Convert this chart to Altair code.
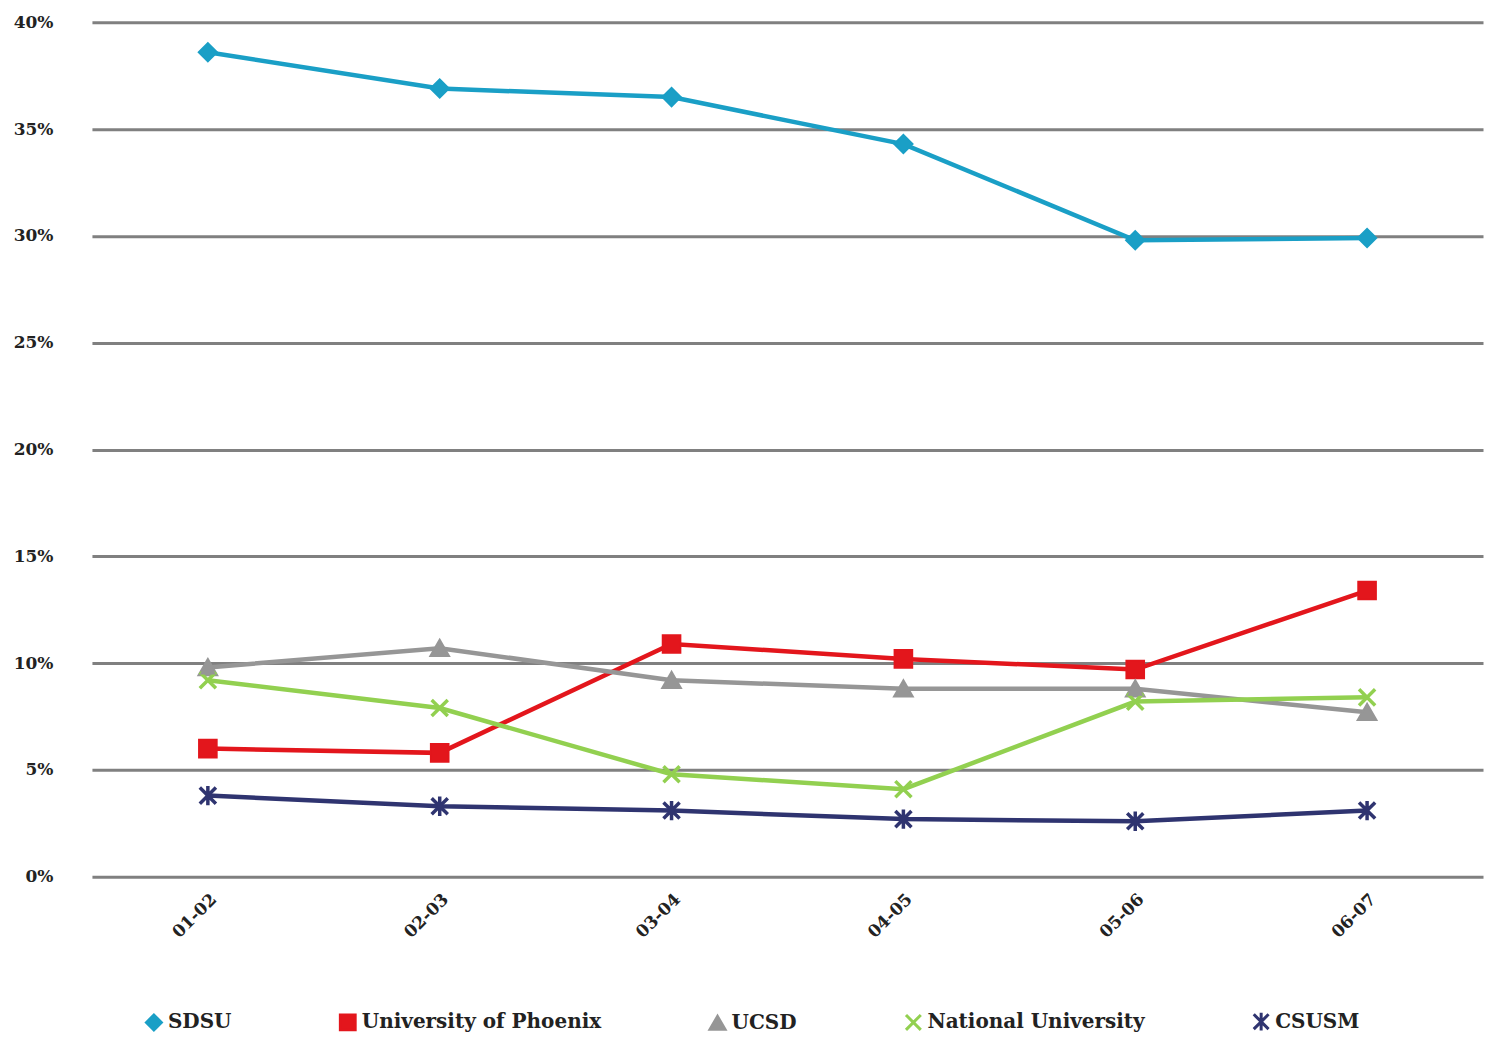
import altair as alt
import pandas as pd

years = ["01-02", "02-03", "03-04", "04-05", "05-06", "06-07"]
schools = ["SDSU", "University of Phoenix", "UCSD", "National University", "CSUSM"]
sdsu = [38.6, 36.9, 36.5, 34.3, 29.8, 29.9]
phoenix = [6.0, 5.8, 10.9, 10.2, 9.7, 13.4]
ucsd = [9.8, 10.7, 9.2, 8.8, 8.8, 7.7]
national = [9.2, 7.9, 4.8, 4.1, 8.2, 8.4]
csusm = [3.8, 3.3, 3.1, 2.7, 2.6, 3.1]

colors = ["#1a9fc6", "#e3161c", "#969696", "#92d050", "#2f3470"]
xpath = "M-1,-1L1,1M-1,1L1,-1"
astpath = "M-1,-1L1,1M-1,1L1,-1M0,-1.2L0,1.2"
shapes = ["diamond", "square", "triangle-up", xpath, astpath]

rows = []
for name, vals in zip(schools, [sdsu, phoenix, ucsd, national, csusm]):
    for y, v in zip(years, vals):
        rows.append({"year": y, "school": name, "pct": v / 100})
df = pd.DataFrame(rows)

font = "DejaVu Serif"
x = alt.X("year:N", title=None, sort=years,
          scale=alt.Scale(paddingOuter=0.5),
          axis=alt.Axis(labelAngle=-45, labelFontSize=17, labelFontWeight="bold",
                        labelFont=font, labelColor="#222", domain=False, ticks=False,
                        labelPadding=14))
y = alt.Y("pct:Q", title=None, scale=alt.Scale(domain=[0, 0.4]),
          axis=alt.Axis(format=".0%", values=[i / 100 for i in range(0, 41, 5)],
                        labelFontSize=17, labelFontWeight="bold", labelFont=font,
                        labelColor="#222", domain=False, ticks=False, labelPadding=39,
                        gridColor="#808080", gridWidth=3, gridOpacity=1))
color = alt.Color("school:N", sort=schools,
                  scale=alt.Scale(domain=schools, range=colors),
                  legend=alt.Legend(title=None, orient="none", direction="horizontal",
                                    legendX=52, legendY=990,
                                    labelFontSize=20, labelFont=font, labelFontWeight="bold",
                                    labelColor="#222", symbolSize=220, symbolStrokeWidth=3,
                                    labelLimit=0, columnPadding=102))
shape = alt.Shape("school:N", sort=schools,
                  scale=alt.Scale(domain=schools, range=shapes))

base = alt.Chart(df).encode(x=x, y=y, color=color)
lines = base.mark_line(strokeWidth=4.5)
outline = base.mark_point(size=260, filled=False, strokeWidth=3.5, opacity=1).encode(shape=shape)
filled = base.mark_point(size=260, filled=True, opacity=1).encode(
    shape=alt.Shape("school:N", sort=schools,
                    scale=alt.Scale(domain=schools, range=shapes), legend=None))

chart = (lines + outline + filled).properties(width=1392, height=855).configure_view(stroke=None)
chart.save("out.html", embed_options={"renderer": "svg", "actions": False})
